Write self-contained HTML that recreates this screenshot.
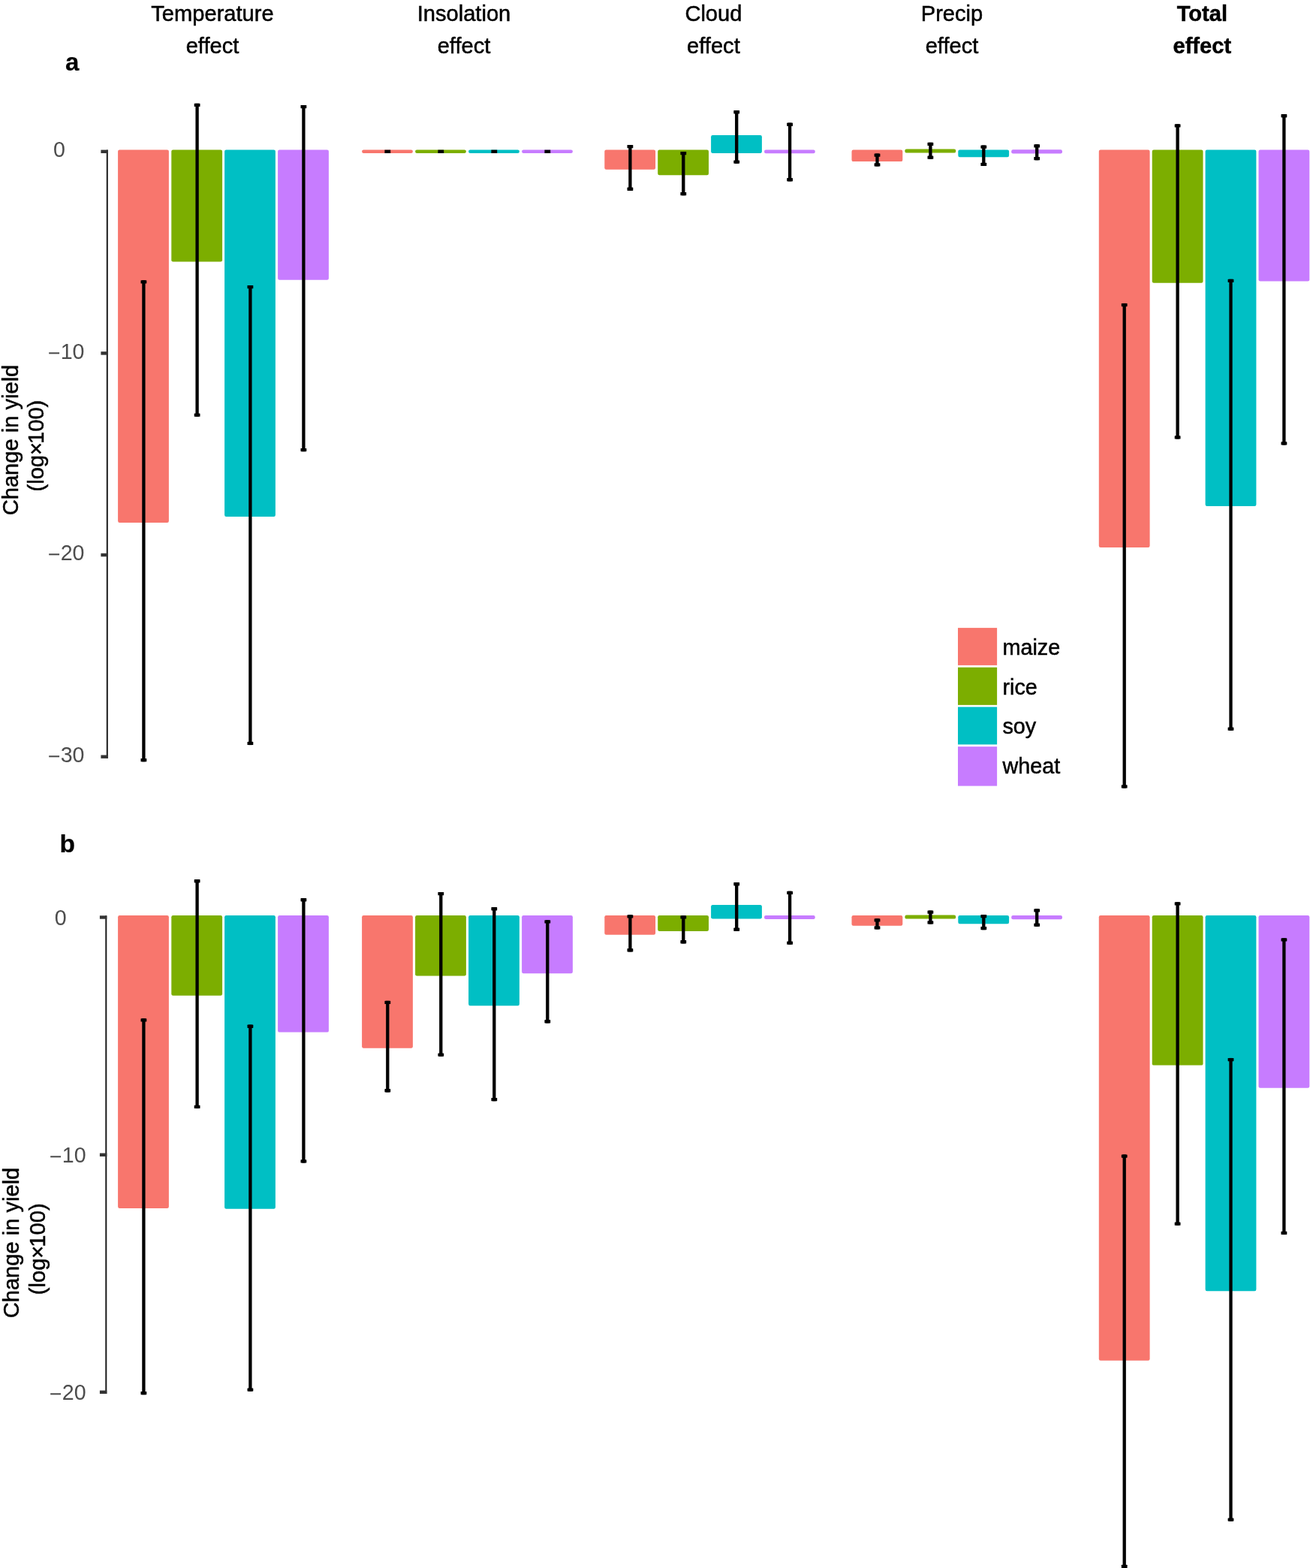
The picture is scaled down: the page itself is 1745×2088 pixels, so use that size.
<!DOCTYPE html>
<html lang="en">
<head>
<meta charset="utf-8">
<title>Change in yield by climate effect</title>
<style>
html,body{margin:0;padding:0;background:#fff;}
body{width:1745px;height:2088px;overflow:hidden;}
svg{display:block;}
svg text{font-family:"Liberation Sans","DejaVu Sans",sans-serif;}
</style>
</head>
<body>
<svg width="1745" height="2088" viewBox="0 0 1745 2088">
<rect x="0" y="0" width="1745" height="2088" fill="#fff"/>
<rect x="157.1" y="199.6" width="67.8" height="496.4" rx="2.2" fill="#F8766D"/>
<rect x="228.3" y="199.6" width="67.8" height="148.8" rx="2.2" fill="#7CAE00"/>
<rect x="299.1" y="199.6" width="67.8" height="488.4" rx="2.2" fill="#00BFC4"/>
<rect x="370.1" y="199.6" width="67.8" height="173.2" rx="2.2" fill="#C77CFF"/>
<rect x="189.25" y="373.2" width="4.3" height="641.1" fill="#000"/>
<rect x="187.5" y="373.2" width="7.8" height="4.3" rx="0.6" fill="#000"/>
<rect x="187.5" y="1010" width="7.8" height="4.3" rx="0.6" fill="#000"/>
<rect x="260.45" y="137.8" width="4.3" height="417" fill="#000"/>
<rect x="258.7" y="137.8" width="7.8" height="4.3" rx="0.6" fill="#000"/>
<rect x="258.7" y="550.5" width="7.8" height="4.3" rx="0.6" fill="#000"/>
<rect x="331.25" y="380" width="4.3" height="612.1" fill="#000"/>
<rect x="329.5" y="380" width="7.8" height="4.3" rx="0.6" fill="#000"/>
<rect x="329.5" y="987.8" width="7.8" height="4.3" rx="0.6" fill="#000"/>
<rect x="402.25" y="140" width="4.3" height="461.2" fill="#000"/>
<rect x="400.5" y="140" width="7.8" height="4.3" rx="0.6" fill="#000"/>
<rect x="400.5" y="596.9" width="7.8" height="4.3" rx="0.6" fill="#000"/>
<rect x="482.1" y="199.6" width="67.8" height="4.4" rx="2.2" fill="#F8766D"/>
<rect x="553.1" y="199.6" width="67.8" height="4.4" rx="2.2" fill="#7CAE00"/>
<rect x="624.1" y="199.6" width="67.8" height="4.4" rx="2.2" fill="#00BFC4"/>
<rect x="695.1" y="199.6" width="67.8" height="4.4" rx="2.2" fill="#C77CFF"/>
<rect x="512.4" y="199.6" width="7.8" height="4.4" fill="#000"/>
<rect x="583.4" y="199.6" width="7.8" height="4.4" fill="#000"/>
<rect x="654.4" y="199.6" width="7.8" height="4.4" fill="#000"/>
<rect x="725.4" y="199.6" width="7.8" height="4.4" fill="#000"/>
<rect x="805.3" y="199.6" width="67.8" height="26.2" rx="2.2" fill="#F8766D"/>
<rect x="876.2" y="199.6" width="67.8" height="33.7" rx="2.2" fill="#7CAE00"/>
<rect x="947.1" y="180" width="67.8" height="24" rx="2.2" fill="#00BFC4"/>
<rect x="1018" y="199.6" width="67.8" height="4.6" rx="2.2" fill="#C77CFF"/>
<rect x="837.25" y="193" width="4.3" height="60.9" fill="#000"/>
<rect x="835.5" y="193" width="7.8" height="4.3" rx="0.6" fill="#000"/>
<rect x="835.5" y="249.6" width="7.8" height="4.3" rx="0.6" fill="#000"/>
<rect x="908.15" y="202" width="4.3" height="58.3" fill="#000"/>
<rect x="906.4" y="202" width="7.8" height="4.3" rx="0.6" fill="#000"/>
<rect x="906.4" y="256" width="7.8" height="4.3" rx="0.6" fill="#000"/>
<rect x="979.05" y="147.1" width="4.3" height="70.6" fill="#000"/>
<rect x="977.3" y="147.1" width="7.8" height="4.3" rx="0.6" fill="#000"/>
<rect x="977.3" y="213.4" width="7.8" height="4.3" rx="0.6" fill="#000"/>
<rect x="1049.95" y="163.6" width="4.3" height="77.8" fill="#000"/>
<rect x="1048.2" y="163.6" width="7.8" height="4.3" rx="0.6" fill="#000"/>
<rect x="1048.2" y="237.1" width="7.8" height="4.3" rx="0.6" fill="#000"/>
<rect x="1134.5" y="199.6" width="67.8" height="15.5" rx="2.2" fill="#F8766D"/>
<rect x="1205.4" y="198.4" width="67.8" height="5.2" rx="2.2" fill="#7CAE00"/>
<rect x="1276.3" y="199.6" width="67.8" height="9.6" rx="2.2" fill="#00BFC4"/>
<rect x="1347.2" y="199.2" width="67.8" height="5.2" rx="2.2" fill="#C77CFF"/>
<rect x="1166.35" y="204.5" width="4.3" height="17" fill="#000"/>
<rect x="1164.6" y="204.5" width="7.8" height="4.3" rx="0.6" fill="#000"/>
<rect x="1164.6" y="217.2" width="7.8" height="4.3" rx="0.6" fill="#000"/>
<rect x="1237.25" y="189.8" width="4.3" height="22" fill="#000"/>
<rect x="1235.5" y="189.8" width="7.8" height="4.3" rx="0.6" fill="#000"/>
<rect x="1235.5" y="207.5" width="7.8" height="4.3" rx="0.6" fill="#000"/>
<rect x="1308.15" y="193.5" width="4.3" height="27.5" fill="#000"/>
<rect x="1306.4" y="193.5" width="7.8" height="4.3" rx="0.6" fill="#000"/>
<rect x="1306.4" y="216.7" width="7.8" height="4.3" rx="0.6" fill="#000"/>
<rect x="1379.05" y="192.2" width="4.3" height="21.1" fill="#000"/>
<rect x="1377.3" y="192.2" width="7.8" height="4.3" rx="0.6" fill="#000"/>
<rect x="1377.3" y="209" width="7.8" height="4.3" rx="0.6" fill="#000"/>
<rect x="1463.8" y="199.6" width="67.8" height="529.3" rx="2.2" fill="#F8766D"/>
<rect x="1534.7" y="199.6" width="67.8" height="177.1" rx="2.2" fill="#7CAE00"/>
<rect x="1605.6" y="199.6" width="67.8" height="474.3" rx="2.2" fill="#00BFC4"/>
<rect x="1676.5" y="199.6" width="67.8" height="174.8" rx="2.2" fill="#C77CFF"/>
<rect x="1495.55" y="403.9" width="4.3" height="645.6" fill="#000"/>
<rect x="1493.8" y="403.9" width="7.8" height="4.3" rx="0.6" fill="#000"/>
<rect x="1493.8" y="1045.2" width="7.8" height="4.3" rx="0.6" fill="#000"/>
<rect x="1566.45" y="165.3" width="4.3" height="419.3" fill="#000"/>
<rect x="1564.7" y="165.3" width="7.8" height="4.3" rx="0.6" fill="#000"/>
<rect x="1564.7" y="580.3" width="7.8" height="4.3" rx="0.6" fill="#000"/>
<rect x="1637.35" y="371.8" width="4.3" height="601" fill="#000"/>
<rect x="1635.6" y="371.8" width="7.8" height="4.3" rx="0.6" fill="#000"/>
<rect x="1635.6" y="968.5" width="7.8" height="4.3" rx="0.6" fill="#000"/>
<rect x="1708.25" y="152.1" width="4.3" height="440.5" fill="#000"/>
<rect x="1706.5" y="152.1" width="7.8" height="4.3" rx="0.6" fill="#000"/>
<rect x="1706.5" y="588.3" width="7.8" height="4.3" rx="0.6" fill="#000"/>
<rect x="157.1" y="1219.1" width="67.8" height="389.9" rx="2.2" fill="#F8766D"/>
<rect x="228.3" y="1219.1" width="67.8" height="106.7" rx="2.2" fill="#7CAE00"/>
<rect x="299.1" y="1219.1" width="67.8" height="390.7" rx="2.2" fill="#00BFC4"/>
<rect x="370.1" y="1219.1" width="67.8" height="155.5" rx="2.2" fill="#C77CFF"/>
<rect x="189.25" y="1356.3" width="4.3" height="500.9" fill="#000"/>
<rect x="187.5" y="1356.3" width="7.8" height="4.3" rx="0.6" fill="#000"/>
<rect x="187.5" y="1852.9" width="7.8" height="4.3" rx="0.6" fill="#000"/>
<rect x="260.45" y="1171.1" width="4.3" height="305" fill="#000"/>
<rect x="258.7" y="1171.1" width="7.8" height="4.3" rx="0.6" fill="#000"/>
<rect x="258.7" y="1471.8" width="7.8" height="4.3" rx="0.6" fill="#000"/>
<rect x="331.25" y="1364.6" width="4.3" height="488.1" fill="#000"/>
<rect x="329.5" y="1364.6" width="7.8" height="4.3" rx="0.6" fill="#000"/>
<rect x="329.5" y="1848.4" width="7.8" height="4.3" rx="0.6" fill="#000"/>
<rect x="402.25" y="1196.1" width="4.3" height="352.5" fill="#000"/>
<rect x="400.5" y="1196.1" width="7.8" height="4.3" rx="0.6" fill="#000"/>
<rect x="400.5" y="1544.3" width="7.8" height="4.3" rx="0.6" fill="#000"/>
<rect x="482.1" y="1219.1" width="67.8" height="176.6" rx="2.2" fill="#F8766D"/>
<rect x="553.1" y="1219.1" width="67.8" height="80.4" rx="2.2" fill="#7CAE00"/>
<rect x="624.1" y="1219.1" width="67.8" height="120.2" rx="2.2" fill="#00BFC4"/>
<rect x="695.1" y="1219.1" width="67.8" height="77.1" rx="2.2" fill="#C77CFF"/>
<rect x="514.15" y="1332.8" width="4.3" height="121.6" fill="#000"/>
<rect x="512.4" y="1332.8" width="7.8" height="4.3" rx="0.6" fill="#000"/>
<rect x="512.4" y="1450.1" width="7.8" height="4.3" rx="0.6" fill="#000"/>
<rect x="585.15" y="1188" width="4.3" height="218.7" fill="#000"/>
<rect x="583.4" y="1188" width="7.8" height="4.3" rx="0.6" fill="#000"/>
<rect x="583.4" y="1402.4" width="7.8" height="4.3" rx="0.6" fill="#000"/>
<rect x="656.15" y="1208.1" width="4.3" height="258.2" fill="#000"/>
<rect x="654.4" y="1208.1" width="7.8" height="4.3" rx="0.6" fill="#000"/>
<rect x="654.4" y="1462" width="7.8" height="4.3" rx="0.6" fill="#000"/>
<rect x="727.15" y="1225.2" width="4.3" height="137.2" fill="#000"/>
<rect x="725.4" y="1225.2" width="7.8" height="4.3" rx="0.6" fill="#000"/>
<rect x="725.4" y="1358.1" width="7.8" height="4.3" rx="0.6" fill="#000"/>
<rect x="805.3" y="1219.1" width="67.8" height="25.7" rx="2.2" fill="#F8766D"/>
<rect x="876.2" y="1219.1" width="67.8" height="20.8" rx="2.2" fill="#7CAE00"/>
<rect x="947.1" y="1205" width="67.8" height="18.4" rx="2.2" fill="#00BFC4"/>
<rect x="1018" y="1219.1" width="67.8" height="4.9" rx="2.2" fill="#C77CFF"/>
<rect x="837.25" y="1218.2" width="4.3" height="49.2" fill="#000"/>
<rect x="835.5" y="1218.2" width="7.8" height="4.3" rx="0.6" fill="#000"/>
<rect x="835.5" y="1263.1" width="7.8" height="4.3" rx="0.6" fill="#000"/>
<rect x="908.15" y="1219.3" width="4.3" height="37.1" fill="#000"/>
<rect x="906.4" y="1219.3" width="7.8" height="4.3" rx="0.6" fill="#000"/>
<rect x="906.4" y="1252.1" width="7.8" height="4.3" rx="0.6" fill="#000"/>
<rect x="979.05" y="1175.1" width="4.3" height="64.8" fill="#000"/>
<rect x="977.3" y="1175.1" width="7.8" height="4.3" rx="0.6" fill="#000"/>
<rect x="977.3" y="1235.6" width="7.8" height="4.3" rx="0.6" fill="#000"/>
<rect x="1049.95" y="1186.7" width="4.3" height="71.1" fill="#000"/>
<rect x="1048.2" y="1186.7" width="7.8" height="4.3" rx="0.6" fill="#000"/>
<rect x="1048.2" y="1253.5" width="7.8" height="4.3" rx="0.6" fill="#000"/>
<rect x="1134.5" y="1219.1" width="67.8" height="13.6" rx="2.2" fill="#F8766D"/>
<rect x="1205.4" y="1218.6" width="67.8" height="5" rx="2.2" fill="#7CAE00"/>
<rect x="1276.3" y="1219.1" width="67.8" height="11.1" rx="2.2" fill="#00BFC4"/>
<rect x="1347.2" y="1219.1" width="67.8" height="5.2" rx="2.2" fill="#C77CFF"/>
<rect x="1166.35" y="1223.2" width="4.3" height="14.3" fill="#000"/>
<rect x="1164.6" y="1223.2" width="7.8" height="4.3" rx="0.6" fill="#000"/>
<rect x="1164.6" y="1233.2" width="7.8" height="4.3" rx="0.6" fill="#000"/>
<rect x="1237.25" y="1212.5" width="4.3" height="18" fill="#000"/>
<rect x="1235.5" y="1212.5" width="7.8" height="4.3" rx="0.6" fill="#000"/>
<rect x="1235.5" y="1226.2" width="7.8" height="4.3" rx="0.6" fill="#000"/>
<rect x="1308.15" y="1218" width="4.3" height="20.2" fill="#000"/>
<rect x="1306.4" y="1218" width="7.8" height="4.3" rx="0.6" fill="#000"/>
<rect x="1306.4" y="1233.9" width="7.8" height="4.3" rx="0.6" fill="#000"/>
<rect x="1379.05" y="1210.3" width="4.3" height="23.5" fill="#000"/>
<rect x="1377.3" y="1210.3" width="7.8" height="4.3" rx="0.6" fill="#000"/>
<rect x="1377.3" y="1229.5" width="7.8" height="4.3" rx="0.6" fill="#000"/>
<rect x="1463.8" y="1219.1" width="67.8" height="592.6" rx="2.2" fill="#F8766D"/>
<rect x="1534.7" y="1219.1" width="67.8" height="199.5" rx="2.2" fill="#7CAE00"/>
<rect x="1605.6" y="1219.1" width="67.8" height="500.2" rx="2.2" fill="#00BFC4"/>
<rect x="1676.5" y="1219.1" width="67.8" height="229.7" rx="2.2" fill="#C77CFF"/>
<rect x="1495.55" y="1537.4" width="4.3" height="550.6" fill="#000"/>
<rect x="1493.8" y="1537.4" width="7.8" height="4.3" rx="0.6" fill="#000"/>
<rect x="1493.8" y="2083.7" width="7.8" height="4.3" rx="0.6" fill="#000"/>
<rect x="1566.45" y="1201.3" width="4.3" height="430.5" fill="#000"/>
<rect x="1564.7" y="1201.3" width="7.8" height="4.3" rx="0.6" fill="#000"/>
<rect x="1564.7" y="1627.5" width="7.8" height="4.3" rx="0.6" fill="#000"/>
<rect x="1637.35" y="1408.9" width="4.3" height="616.8" fill="#000"/>
<rect x="1635.6" y="1408.9" width="7.8" height="4.3" rx="0.6" fill="#000"/>
<rect x="1635.6" y="2021.4" width="7.8" height="4.3" rx="0.6" fill="#000"/>
<rect x="1708.25" y="1249.3" width="4.3" height="394.8" fill="#000"/>
<rect x="1706.5" y="1249.3" width="7.8" height="4.3" rx="0.6" fill="#000"/>
<rect x="1706.5" y="1639.8" width="7.8" height="4.3" rx="0.6" fill="#000"/>
<rect x="141.8" y="199.6" width="2" height="810.2" fill="#1a1a1a"/>
<rect x="134.4" y="199.6" width="9.4" height="4.4" fill="#333"/>
<rect x="134.4" y="468.2" width="9.4" height="4.4" fill="#333"/>
<rect x="134.4" y="736.8" width="9.4" height="4.4" fill="#333"/>
<rect x="134.4" y="1005.5" width="9.4" height="4.4" fill="#333"/>
<rect x="140.3" y="1219.3" width="2" height="636.7" fill="#1a1a1a"/>
<rect x="132.9" y="1219.3" width="9.4" height="4.4" fill="#333"/>
<rect x="132.9" y="1535.6" width="9.4" height="4.4" fill="#333"/>
<rect x="132.9" y="1851.6" width="9.4" height="4.4" fill="#333"/>
<text x="283" y="28.3" text-anchor="middle" font-size="29.1" font-weight="normal" fill="#000" stroke="#000" stroke-width="0.5">Temperature</text>
<text x="283" y="70.5" text-anchor="middle" font-size="29.1" font-weight="normal" fill="#000" stroke="#000" stroke-width="0.5">effect</text>
<text x="618" y="28.3" text-anchor="middle" font-size="29.1" font-weight="normal" fill="#000" stroke="#000" stroke-width="0.5">Insolation</text>
<text x="618" y="70.5" text-anchor="middle" font-size="29.1" font-weight="normal" fill="#000" stroke="#000" stroke-width="0.5">effect</text>
<text x="950.4" y="28.3" text-anchor="middle" font-size="29.1" font-weight="normal" fill="#000" stroke="#000" stroke-width="0.5">Cloud</text>
<text x="950.4" y="70.5" text-anchor="middle" font-size="29.1" font-weight="normal" fill="#000" stroke="#000" stroke-width="0.5">effect</text>
<text x="1268" y="28.3" text-anchor="middle" font-size="29.1" font-weight="normal" fill="#000" stroke="#000" stroke-width="0.5">Precip</text>
<text x="1268" y="70.5" text-anchor="middle" font-size="29.1" font-weight="normal" fill="#000" stroke="#000" stroke-width="0.5">effect</text>
<text x="1601.3" y="28.3" text-anchor="middle" font-size="29.1" font-weight="bold" fill="#000" stroke="#000" stroke-width="0.5">Total</text>
<text x="1601.3" y="70.5" text-anchor="middle" font-size="29.1" font-weight="bold" fill="#000" stroke="#000" stroke-width="0.5">effect</text>
<text x="86.9" y="94.4" text-anchor="start" font-size="33" font-weight="bold" fill="#000" stroke="#000" stroke-width="0.2">a</text>
<text x="79.6" y="1135.2" text-anchor="start" font-size="33.6" font-weight="bold" fill="#000" stroke="#000" stroke-width="0.2">b</text>
<text x="86.8" y="209.1" text-anchor="end" font-size="28.6" font-weight="normal" fill="#4D4D4D" stroke="#4D4D4D" stroke-width="0">0</text>
<text x="112.5" y="477.8" text-anchor="end" font-size="28.6" font-weight="normal" fill="#4D4D4D" stroke="#4D4D4D" stroke-width="0"><tspan dy="1.7">−</tspan><tspan dy="-1.7">10</tspan></text>
<text x="112.5" y="746.4" text-anchor="end" font-size="28.6" font-weight="normal" fill="#4D4D4D" stroke="#4D4D4D" stroke-width="0"><tspan dy="1.7">−</tspan><tspan dy="-1.7">20</tspan></text>
<text x="112.5" y="1015.1" text-anchor="end" font-size="28.6" font-weight="normal" fill="#4D4D4D" stroke="#4D4D4D" stroke-width="0"><tspan dy="1.7">−</tspan><tspan dy="-1.7">30</tspan></text>
<text x="88.6" y="1231.8" text-anchor="end" font-size="28.6" font-weight="normal" fill="#4D4D4D" stroke="#4D4D4D" stroke-width="0">0</text>
<text x="114.6" y="1548.1" text-anchor="end" font-size="28.6" font-weight="normal" fill="#4D4D4D" stroke="#4D4D4D" stroke-width="0"><tspan dy="1.7">−</tspan><tspan dy="-1.7">10</tspan></text>
<text x="114.6" y="1864.1" text-anchor="end" font-size="28.6" font-weight="normal" fill="#4D4D4D" stroke="#4D4D4D" stroke-width="0"><tspan dy="1.7">−</tspan><tspan dy="-1.7">20</tspan></text>
<text transform="translate(24.2 586) rotate(-90)" text-anchor="middle" font-size="29.1" fill="#000" stroke="#000" stroke-width="0.5">Change in yield</text>
<text transform="translate(57.5 593.6) rotate(-90)" text-anchor="middle" font-size="29.1" fill="#000" stroke="#000" stroke-width="0.5">(log×<tspan dx="-2">100)</tspan></text>
<text transform="translate(25.2 1655) rotate(-90)" text-anchor="middle" font-size="29.1" fill="#000" stroke="#000" stroke-width="0.5">Change in yield</text>
<text transform="translate(59.7 1663.3) rotate(-90)" text-anchor="middle" font-size="29.1" fill="#000" stroke="#000" stroke-width="0.5">(log×<tspan dx="-2">100)</tspan></text>
<rect x="1276" y="836.1" width="52.1" height="49.8" fill="#F8766D"/>
<text x="1335.4" y="871.8" text-anchor="start" font-size="28.8" font-weight="normal" fill="#000" stroke="#000" stroke-width="0.5">maize</text>
<rect x="1276" y="888.7" width="52.1" height="50.1" fill="#7CAE00"/>
<text x="1335.4" y="924.6" text-anchor="start" font-size="28.8" font-weight="normal" fill="#000" stroke="#000" stroke-width="0.5">rice</text>
<rect x="1276" y="941.4" width="52.1" height="50" fill="#00BFC4"/>
<text x="1335.4" y="977.2" text-anchor="start" font-size="28.8" font-weight="normal" fill="#000" stroke="#000" stroke-width="0.5">soy</text>
<rect x="1276" y="994.2" width="52.1" height="52.4" fill="#C77CFF"/>
<text x="1335.4" y="1029.8" text-anchor="start" font-size="28.8" font-weight="normal" fill="#000" stroke="#000" stroke-width="0.5">wheat</text>
</svg>
</body>
</html>
